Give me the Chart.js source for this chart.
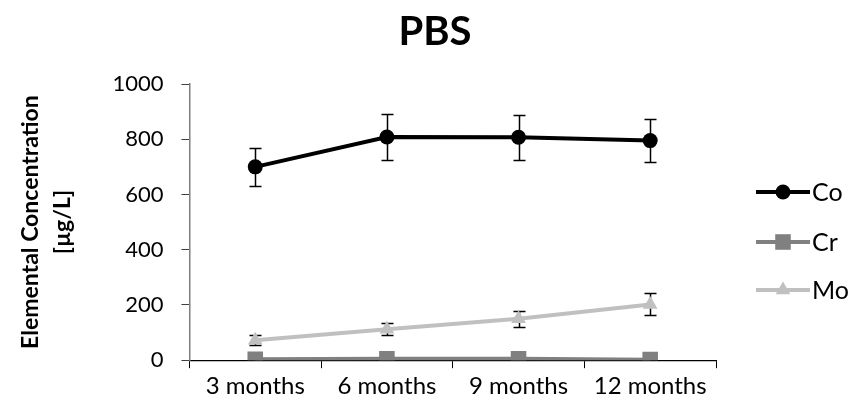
<!DOCTYPE html>
<html>
<head>
<meta charset="utf-8">
<script src="https://cdn.jsdelivr.net/npm/chart.js@4.4.1/dist/chart.umd.min.js"></script>
<style>
  html, body { margin: 0; padding: 0; background: #ffffff; }
  #wrap { width: 856px; height: 411px; }
</style>
</head>
<body>
<div id="wrap"><canvas id="c" width="856" height="411"></canvas></div>
<script>
// Sampling times
const categories = ['3 months', '6 months', '9 months', '12 months'];

// Mean concentrations (µg/L) and their standard deviations
const coValues = [700, 808, 807, 795];
const coErrors = [70, 82, 81, 79];
const crValues = [3, 5, 5, 2];
const crErrors = [0, 0, 0, 0];
const moValues = [72, 112, 150, 202];
const moErrors = [18, 22, 28, 40];

// Y axis tick values
const yTicks = [0, 200, 400, 600, 800, 1000];

const FONT = 'Lato, "Open Sans", "Liberation Sans", sans-serif';
const LEGEND_WIDTH = 140;

// Vertical error bars with caps, drawn underneath the series lines
const errorBars = {
  id: 'errorBars',
  beforeDatasetsDraw(chart) {
    const ctx = chart.ctx;
    const y = chart.scales.y;
    ctx.save();
    ctx.strokeStyle = '#000000';
    ctx.lineWidth = 1.5;
    chart.data.datasets.forEach((ds, di) => {
      if (!ds.errors) return;
      const meta = chart.getDatasetMeta(di);
      meta.data.forEach((pt, i) => {
        const e = ds.errors[i];
        if (!e) return;
        const v = ds.data[i];
        const top = Math.round(y.getPixelForValue(v + e)) + 0.5;
        const bot = Math.round(y.getPixelForValue(v - e)) + 0.5;
        const x = Math.round(pt.x) + 0.5;
        ctx.beginPath();
        ctx.moveTo(x, top); ctx.lineTo(x, bot);
        ctx.moveTo(x - 6, top); ctx.lineTo(x + 6, top);
        ctx.moveTo(x - 6, bot); ctx.lineTo(x + 6, bot);
        ctx.stroke();
      });
    });
    ctx.restore();
  }
};

// Legend at the right: short line segment with the series marker, then the name
const sideLegend = {
  id: 'sideLegend',
  afterDraw(chart) {
    const ctx = chart.ctx;
    const x0 = 756, x1 = 810, xm = 783, xt = 812;
    const rows = [192, 242, 290];
    ctx.save();
    chart.data.datasets.forEach((ds, i) => {
      const yy = rows[i];
      ctx.strokeStyle = ds.borderColor;
      ctx.lineWidth = ds.borderWidth;
      ctx.beginPath();
      ctx.moveTo(x0, yy); ctx.lineTo(x1, yy);
      ctx.stroke();
      ctx.fillStyle = ds.pointBackgroundColor;
      ctx.strokeStyle = ds.pointBorderColor;
      Chart.helpers.drawPoint(ctx, {
        pointStyle: ds.pointStyle,
        radius: ds.pointRadius,
        rotation: 0,
        borderWidth: 0
      }, xm, yy);
      ctx.fillStyle = '#000000';
      ctx.font = '25px ' + FONT;
      ctx.textAlign = 'left';
      ctx.textBaseline = 'middle';
      ctx.fillText(ds.label, xt, yy + 1);
    });
    ctx.restore();
  }
};

function series(label, values, errors, color, style, radius) {
  return {
    label: label,
    data: values,
    errors: errors,
    borderColor: color,
    backgroundColor: color,
    borderWidth: 4,
    pointStyle: style,
    pointRadius: radius,
    pointHoverRadius: radius,
    pointBackgroundColor: color,
    pointBorderColor: color,
    pointBorderWidth: 0,
    tension: 0
  };
}

new Chart(document.getElementById('c'), {
  type: 'line',
  data: {
    labels: categories,
    datasets: [
      series('Co', coValues, coErrors, '#000000', 'circle', 7.5),
      series('Cr', crValues, crErrors, '#808080', 'rect', 11),
      series('Mo', moValues, moErrors, '#c0c0c0', 'triangle', 8.5)
    ]
  },
  options: {
    responsive: false,
    animation: false,
    devicePixelRatio: 1,
    layout: { padding: { left: 14, right: 0, top: 0, bottom: 6 } },
    plugins: {
      legend: { display: false },
      tooltip: { enabled: false },
      title: {
        display: true,
        text: 'PBS',
        color: '#000000',
        font: { family: FONT, size: 40, weight: 'bold' },
        padding: { top: 8, bottom: 28 }
      }
    },
    scales: {
      x: {
        offset: true,
        grid: {
          display: true,
          offset: true,
          drawOnChartArea: false,
          tickLength: 8,
          color: '#000000',
          lineWidth: 1
        },
        border: { display: true, color: '#000000', width: 1.2 },
        ticks: {
          color: '#000000',
          padding: 4,
          font: { family: FONT, size: 24 },
          maxRotation: 0
        }
      },
      y: {
        min: 0,
        max: 1000,
        afterBuildTicks(scale) { scale.ticks = yTicks.map(v => ({ value: v })); },
        grid: {
          display: true,
          drawOnChartArea: false,
          tickLength: 8,
          color: '#404040',
          lineWidth: 1
        },
        border: { display: true, color: '#7f7f7f', width: 1.5 },
        ticks: {
          color: '#000000',
          padding: 18,
          font: { family: FONT, size: 22 },
          callback: v => String(v)
        },
        title: {
          display: true,
          text: ['Elemental Concentration', '[µg/L]'],
          color: '#000000',
          font: { family: FONT, size: 23, weight: 'bold', lineHeight: 1.4 },
          padding: { top: 0, bottom: 16 }
        }
      },
      // empty right-hand column that leaves room for the legend
      legendSpace: {
        type: 'linear',
        position: 'right',
        display: true,
        grid: { display: false },
        border: { display: false },
        ticks: { display: false },
        afterFit(scale) { scale.width = LEGEND_WIDTH; }
      }
    }
  },
  plugins: [errorBars, sideLegend]
});
</script>
</body>
</html>
